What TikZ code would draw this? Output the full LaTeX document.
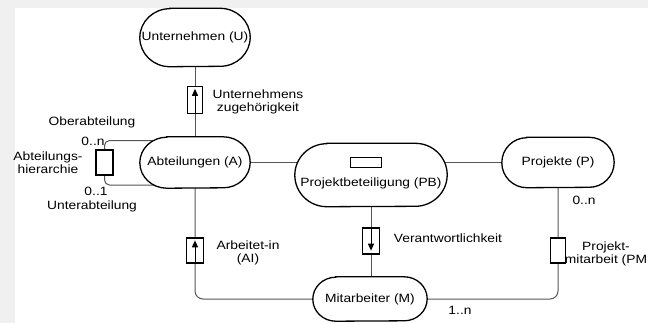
\documentclass[tikz,border=0pt]{standalone}
\usepackage{fontspec}
\setmainfont{Liberation Sans}[FakeStretch=1.15]
\usetikzlibrary{arrows.meta,calc}
\definecolor{pagegray}{RGB}{240,240,240}
\definecolor{linegray}{RGB}{85,85,85}
\pgfdeclarelayer{bg}
\pgfdeclarelayer{edges}
\pgfdeclarelayer{shapes}
\pgfsetlayers{bg,edges,shapes,main}

% outline of an entity: flat top and bottom, half-elliptic ends
% #1 node name, #2 horizontal radius of the ends, #3 half height
\newcommand\entityoutline[3]{%
  \filldraw[entline] ([xshift=#2]#1.north west) -- ([xshift=-#2]#1.north east)
    arc[start angle=90, end angle=-90, x radius=#2, y radius=#3]
    -- ([xshift=#2]#1.south west)
    arc[start angle=270, end angle=90, x radius=#2, y radius=#3] -- cycle;}

\begin{document}
\begin{tikzpicture}[x=1bp,y=-1bp,
  font=\fontsize{12bp}{13bp}\selectfont,
  entity/.style={rectangle, inner sep=0pt},
  entline/.style={draw=black, fill=white, line width=1.3bp},
  relbox/.style={rectangle, draw=black, line width=1.3bp, fill=white, inner sep=0pt},
  conn/.style={draw=linegray, line width=1bp},
  txt/.style={align=center, inner sep=0pt},
  flow/.style={-{Triangle[length=7bp,width=6bp]}, line width=1bp, black}]

\useasboundingbox (0,0) rectangle (648,323);
\begin{pgfonlayer}{bg}
  \fill[pagegray] (0,0) rectangle (648,323);
  \fill[white] (15,8) rectangle (648,323);
\end{pgfonlayer}

% entity types
\node[entity, minimum width=110bp, minimum height=58bp] (U) at (195,37.5) {Unternehmen (U)};
\node[entity, minimum width=110bp, minimum height=51bp] (A) at (195,162.5) {Abteilungen (A)};
\node[entity, minimum width=152bp, minimum height=63bp,
      text height=25bp, text depth=3bp] (PB) at (371,175) {Projektbeteiligung (PB)};
\node[entity, minimum width=112bp, minimum height=50bp] (P) at (558,162.5) {Projekte (P)};
\node[entity, minimum width=114bp, minimum height=44bp] (M) at (370,299) {Mitarbeiter (M)};

\begin{pgfonlayer}{shapes}
  \entityoutline{U}{30bp}{29bp}
  \entityoutline{A}{27bp}{25.5bp}
  \entityoutline{PB}{32bp}{31.5bp}
  \entityoutline{P}{25bp}{25bp}
  \entityoutline{M}{23bp}{22bp}
\end{pgfonlayer}

% relationship boxes
\node[relbox, minimum width=15bp, minimum height=27bp] (UZ) at (195,100) {};
\node[relbox, minimum width=17bp, minimum height=25bp] (H) at (104.5,162.5) {};
\node[relbox, minimum width=31bp, minimum height=10bp] (PBR) at (366,162.5) {};
\node[relbox, minimum width=17bp, minimum height=26bp] (V) at (371,241) {};
\node[relbox, minimum width=17bp, minimum height=25bp] (AI) at (195,250.5) {};
\node[relbox, minimum width=15bp, minimum height=25bp] (PM) at (558,250.5) {};

% connectors
\begin{pgfonlayer}{edges}
  \draw[conn] (U.south) -- (A.north);
  \draw[conn, rounded corners=5bp] ($(A.center)+(0,-22)$) -| (H.north);
  \draw[conn, rounded corners=5bp] (H.south) |- ($(A.center)+(0,22.5)$);
  \draw[conn] (A.east) -- (P.west);
  \draw[conn] (PB.south) -- (PB.south |- M.north);
  \draw[conn, rounded corners=8bp] (A.south) |- (M.west);
  \draw[conn, rounded corners=8bp] (P.south) |- (M.east);
\end{pgfonlayer}

% direction arrows inside the boxes
\draw[flow] (UZ.south) -- ([yshift=-3bp]UZ.north);
\draw[flow] (AI.south) -- ([yshift=-3bp]AI.north);
\draw[flow] (V.north) -- ([yshift=4bp]V.south);

% labels
\node[txt] (tUZ) at (258,101.5) {Unternehmens\\zugehörigkeit};
\node[txt] (tOber) at (92,122) {Oberabteilung};
\node[txt] (tOn) at (93,141) {0..n};
\node[txt] (tHier) at (48,162.5) {Abteilungs-\\hierarchie};
\node[txt] (tO1) at (96,191) {0..1};
\node[txt] (tUnter) at (92,206) {Unterabteilung};
\node[txt] (tAI) at (248,253) {Arbeitet-in\\(AI)};
\node[txt] (tV) at (448,238) {Verantwortlichkeit};
\node[txt] (tPM) at (606,253.5) {Projekt-\\mitarbeit (PM};
\node[txt] (tPn) at (584,200) {0..n};
\node[txt] (tMn) at (460,310) {1..n};
\end{tikzpicture}
\end{document}
